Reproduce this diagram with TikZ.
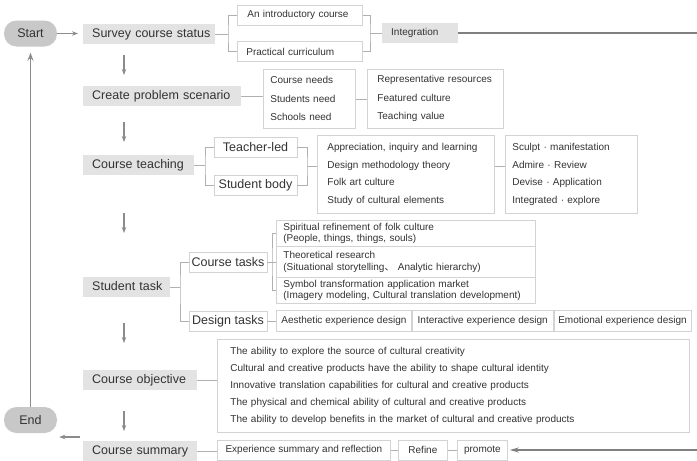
\documentclass[tikz,border=0pt]{standalone}
\usepackage{fontspec}
\setmainfont{Liberation Sans}
\newfontfamily\cjkfont{Noto Sans CJK JP}
\usetikzlibrary{arrows.meta}

\definecolor{txt}{HTML}{333333}
\definecolor{gboxc}{HTML}{E3E3E3}
\definecolor{pillc}{HTML}{C8C8C8}
\definecolor{bordc}{HTML}{D3D3D3}
\definecolor{brkc}{HTML}{B0B0B0}
\definecolor{flowc}{HTML}{8C8C8C}
\definecolor{trunkc}{HTML}{808080}

\newcommand\fsbig{\fontsize{12.5}{15}\selectfont}
\newcommand\fssmall{\fontsize{10}{12}\selectfont}
\newcommand\jdot{\ \textperiodcentered\ }

\begin{document}
\begin{tikzpicture}[x=1pt, y=-1pt,
  every node/.style={text=txt},
  % grey step boxes of the main column
  gbox/.style={fill=gboxc, anchor=west, minimum height=20pt, inner sep=0pt,
    text width=#1, align=left, font=\fsbig, text height=9pt, text depth=2.7pt,
    execute at begin node={\hspace*{9pt}}},
  pill/.style={fill=pillc, rounded corners=12.5pt, minimum width=53pt,
    minimum height=26pt, inner sep=0pt, font=\fsbig},
  wbox/.style={draw=bordc, line width=0.8pt, fill=white, inner sep=0pt},
  % single-line outlined box with centred text
  cbox/.style={wbox, minimum width=#1, minimum height=20pt},
  % outlined box holding left-aligned lines
  lbox/.style={wbox, anchor=north west, align=left},
  brk/.style={draw=brkc, line width=0.8pt},
  flow/.style={draw=flowc, line width=1.4pt, -{Stealth[length=6pt,width=4.5pt]}},
  trunk/.style={draw=trunkc, line width=1.2pt},
]
\useasboundingbox[fill=white] (0,0) rectangle (697,461);

% start / end terminals
\node[pill] (start) at (30.5,33.5) {Start};
\node[pill] (end) at (30.5,420) {End};

% main column
\node[gbox=132pt] (survey) at (83,34) {Survey course status};
\node[gbox=158pt] (create) at (83,96) {Create problem scenario};
\node[gbox=111pt] (teach) at (83,165) {Course teaching};
\node[gbox=87pt] (stask) at (83,287) {Student task};
\node[gbox=114pt] (cobj) at (83,380) {Course objective};
\node[gbox=114pt] (csum) at (83,451) {Course summary};

% survey course status
\node[wbox, anchor=west, inner xsep=10pt, text width=105pt, minimum height=20pt,
  align=left, font=\fssmall] (intro) at (237,15) {An introductory course};
\node[wbox, anchor=west, inner xsep=9pt, text width=107pt, minimum height=20pt,
  align=left, font=\fssmall] (pract) at (237,51.5) {Practical curriculum};
\node[gbox=76pt, font=\fssmall, text height=7.5pt, text depth=2pt] (integ) at (382,33) {Integration};

% problem scenario
\node[lbox, inner xsep=7pt, text width=78pt, minimum height=59pt,
  font=\fontsize{10}{18.5}\selectfont] (needs) at (263,69)
  {Course needs\\Students need\\Schools need};
\node[lbox, inner xsep=10pt, text width=116pt, minimum height=59pt,
  font=\fontsize{10}{18.5}\selectfont] (repres) at (367,69)
  {Representative resources\\Featured culture\\Teaching value};

% course teaching
\node[cbox=83pt, font=\fsbig] (teacher) at (255.5,147) {Teacher-led};
\node[cbox=83pt, font=\fsbig] (studbody) at (255.5,185) {Student body};
\node[lbox, inner xsep=10pt, text width=157pt, minimum height=78pt,
  font=\fontsize{10}{17.7}\selectfont] (apprec) at (317,135)
  {Appreciation, inquiry and learning\\Design methodology theory\\Folk art culture\\Study of cultural elements};
\node[lbox, inner xsep=7pt, text width=118pt, minimum height=78pt,
  font=\fontsize{10}{17.7}\selectfont] (sculpt) at (505,135)
  {Sculpt\jdot manifestation\\Admire\jdot Review\\Devise\jdot Application\\Integrated\jdot explore};

% student task
\node[cbox=78pt, font=\fsbig] (ctasks) at (228,262) {Course tasks};
\node[cbox=78pt, font=\fsbig, minimum height=19.5pt] (dtasks) at (228,321.5) {Design tasks};
\node[lbox, inner xsep=7pt, text width=245pt, minimum height=26pt,
  font=\fontsize{10}{11.5}\selectfont] (sp1) at (276,220)
  {Spiritual refinement of folk culture\\(People, things, things, souls)};
\node[lbox, inner xsep=7pt, text width=245pt, minimum height=31pt,
  font=\fontsize{10}{11.5}\selectfont] (sp2) at (276,246)
  {Theoretical research\\(Situational storytelling{\cjkfont 、} Analytic hierarchy)};
\node[lbox, inner xsep=7pt, text width=245pt, minimum height=26pt,
  font=\fontsize{10}{11.5}\selectfont] (sp3) at (276,277)
  {Symbol transformation application market\\(Imagery modeling, Cultural translation development)};
\node[cbox=135pt, minimum height=21pt, anchor=north west, font=\fssmall] (aes) at (276,310) {Aesthetic experience design};
\node[cbox=141pt, minimum height=21pt, anchor=north west, font=\fssmall] (inter) at (aes.north east) {Interactive experience design};
\node[cbox=137pt, minimum height=21pt, anchor=north west, font=\fssmall] (emo) at (inter.north east) {Emotional experience design};

% course objective
\node[lbox, inner xsep=13pt, text width=446pt, minimum height=93pt,
  font=\fontsize{10}{17}\selectfont] (objbox) at (217,339)
  {The ability to explore the source of cultural creativity\\
   Cultural and creative products have the ability to shape cultural identity\\
   Innovative translation capabilities for cultural and creative products\\
   The physical and chemical ability of cultural and creative products\\
   The ability to develop benefits in the market of cultural and creative products};

% course summary
\node[cbox=173pt, anchor=west, font=\fssmall] (expsum) at (217,450) {Experience summary and reflection};
\node[cbox=49pt, anchor=west, font=\fssmall] (refine) at (398,450) {Refine};
\node[cbox=50pt, anchor=west, font=\fssmall] (promote) at (457,450) {promote};

% bracket connectors
\coordinate (j1) at (228,34);
\draw[brk] (survey.east) -- (j1);
\draw[brk] (intro.west) -| (j1) |- (pract.west);
\coordinate (j2) at (370,33);
\draw[brk] (intro.east) -| (j2) |- (pract.east);
\draw[brk] (j2) -- (integ.west);

\draw[brk] (create.east) -- (create.east -| needs.west);
\draw[brk] (needs.east) -- (repres.west);

\coordinate (j3) at (205,165);
\draw[brk] (teach.east) -- (j3);
\draw[brk] (teacher.west) -| (j3) |- (studbody.west);
\coordinate (j4) at (307,166);
\draw[brk] (teacher.east) -| (j4) |- (studbody.east);
\draw[brk] (j4) -- (j4 -| apprec.west);
\draw[brk] (apprec.east |- j4) -- (sculpt.west |- j4);

\coordinate (j5) at (180,287);
\draw[brk] (stask.east) -- (j5);
\draw[brk] (ctasks.west) -| (j5) |- (dtasks.west);
\coordinate (j6) at (272,262);
\draw[brk] (ctasks.east) -- (sp2.west |- ctasks.east);
\draw[brk] (sp1.west) -| (j6) |- (sp3.west);
\draw[brk] (dtasks.east) -- (dtasks.east -| aes.west);

\draw[brk] (cobj.east) -- (cobj.east -| objbox.west);
\draw[brk] (csum.east) -- (csum.east -| expsum.west);
\draw[brk] (expsum.east) -- (refine.west);
\draw[brk] (refine.east) -- (promote.west);

% integration feeds back into the summary row
\coordinate (e1) at (697,33);
\coordinate (e2) at (697,450);
\draw[trunk] (integ.east) -- (e1);
\draw[trunk, -{Stealth[length=9pt,width=5pt]}, shorten >=2pt] (e2) -- (promote.east);

% flow arrows
\draw[flow, shorten >=5pt] (start.east) -- (start.east -| survey.west);
\coordinate (d1) at (124,55);
\coordinate (d2) at (124,122);
\coordinate (d3) at (124,213);
\coordinate (d4) at (124,323);
\coordinate (d5) at (124,411);
\foreach \d in {d1,d2,d3,d4,d5} \draw[flow] (\d) -- ++(0,20);
\draw[flow, -{Stealth[length=8pt,width=6pt]}, line width=1.8pt, shorten >=6pt] (end.north) -- (start.south);
\coordinate (c1) at (80,437);
\draw[flow, shorten >=2pt] (c1) -- (c1 -| end.east);
\end{tikzpicture}
\end{document}
